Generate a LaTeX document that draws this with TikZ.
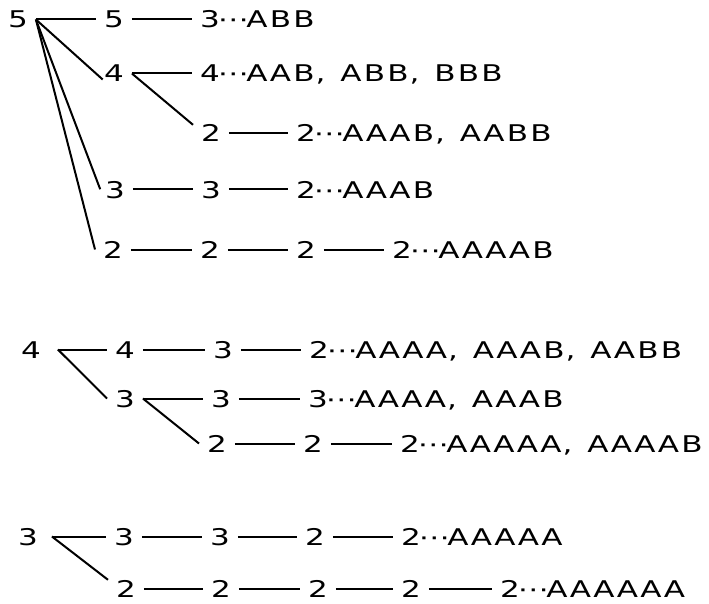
\documentclass[tikz,border=0pt]{standalone}
\usepackage{fontspec}
\newfontfamily\gothic[FakeStretch=1.35]{DejaVu Sans}
% every character in a cell of its own, commas flush left
\newlength\fwpitch
\setlength\fwpitch{23.5pt}
\def\fwloop#1{\ifx#1\relax\else\fwchar{#1}\expandafter\fwloop\fi}
\def\fwchar#1{\ifx#1,\makebox[\fwpitch][l]{,}\else\makebox[\fwpitch]{#1}\fi}
\newcommand\fw[1]{\fwloop#1\relax}
\newcommand\dd{⋯}
\tikzset{
  num/.style={font=\gothic\fontsize{23pt}{23pt}\selectfont, inner xsep=6pt, inner ysep=0pt,
    text height=17pt, text depth=0pt, anchor=base west},
  branch/.style={line width=2pt},
}

\begin{document}
\begin{tikzpicture}[x=1pt,y=-1pt]
  \useasboundingbox (0,0) rectangle (709,604);
  % first tree
  \node[num] (r1) at (0,28) {\fw{5}};
  \node[num] (a1) at (96,28) {\fw{5}};
  \node[num] (t1) at (192,28) {\fw{3\dd ABB}};
  \node[num] (a2) at (96,82) {\fw{4}};
  \node[num] (t2) at (192,82) {\fw{4\dd AAB,ABB,BBB}};
  \node[num] (b3) at (193,142) {\fw{2}};
  \node[num] (t3) at (288,142) {\fw{2\dd AAAB,AABB}};
  \node[num] (a4) at (97,198) {\fw{3}};
  \node[num] (b4) at (193,198) {\fw{3}};
  \node[num] (t4) at (288,198) {\fw{2\dd AAAB}};
  \node[num] (a5) at (95,258) {\fw{2}};
  \node[num] (b5) at (192,258) {\fw{2}};
  \node[num] (c5) at (288,258) {\fw{2}};
  \node[num] (t5) at (384,258) {\fw{2\dd AAAAB}};
  \begin{scope}[branch]
    \draw (r1.east) -- (a1.west);
    \draw[shorten >=-9pt] (r1.east) -- (a2.west);
    \draw[shorten >=-9pt] (r1.east) -- (a4.north west);
    \draw (r1.east) -- (a5.west);
    \draw (a1) -- (t1);
    \draw (a2) -- (t2);
    \draw (a2.east) -- (b3.north west);
    \draw (b3) -- (t3);
    \draw (a4) -- (b4);
    \draw (b4) -- (t4);
    \draw (a5) -- (b5);
    \draw (b5) -- (c5);
    \draw (c5) -- (t5);
  \end{scope}
  % second tree
  \node[num] (r2) at (13,358) {\fw{4}};
  \coordinate (r2j) at ([xshift=9pt]r2.east);
  \node[num] (aA) at (107,358) {\fw{4}};
  \node[num] (bA) at (205,358) {\fw{3}};
  \node[num] (tA) at (301,358) {\fw{2\dd AAAA,AAAB,AABB}};
  \node[num] (aB) at (107,407) {\fw{3}};
  \node[num] (bB) at (203,407) {\fw{3}};
  \node[num] (tB) at (300,407) {\fw{3\dd AAAA,AAAB}};
  \node[num] (bC) at (199,452) {\fw{2}};
  \node[num] (cC) at (295,452) {\fw{2}};
  \node[num] (tC) at (392,452) {\fw{2\dd AAAAA,AAAAB}};
  \begin{scope}[branch]
    \draw (r2j) -- (aA.west);
    \draw (r2j) -- (aB.west);
    \draw (aA) -- (bA);
    \draw (bA) -- (tA);
    \draw (aB.east) -- (bB.west);
    \draw (aB.east) -- (bC.west);
    \draw (bB) -- (tB);
    \draw (bC) -- (cC);
    \draw (cC) -- (tC);
  \end{scope}
  % third tree
  \node[num] (r3) at (10,545) {\fw{3}};
  \coordinate (r3j) at ([xshift=6pt]r3.east);
  \node[num] (aD) at (106,545) {\fw{3}};
  \node[num] (bD) at (202,545) {\fw{3}};
  \node[num] (cD) at (297,545) {\fw{2}};
  \node[num] (tD) at (393,545) {\fw{2\dd AAAAA}};
  \node[num] (aE) at (108,597) {\fw{2}};
  \node[num] (bE) at (203,597) {\fw{2}};
  \node[num] (cE) at (300,597) {\fw{2}};
  \node[num] (dE) at (393,597) {\fw{2}};
  \node[num] (tE) at (492,597) {\fw{2\dd AAAAAA}};
  \begin{scope}[branch]
    \draw (r3j) -- (aD.west);
    \draw (r3j) -- (aE.north west);
    \draw (aD) -- (bD);
    \draw (bD) -- (cD);
    \draw (cD) -- (tD);
    \draw (aE) -- (bE);
    \draw (bE) -- (cE);
    \draw (cE) -- (dE);
    \draw (dE) -- (tE);
  \end{scope}
\end{tikzpicture}
\end{document}
